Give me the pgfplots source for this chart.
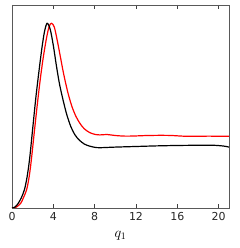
\documentclass[border=0pt]{standalone}
\usepackage{fontspec}
\setmainfont{DejaVu Sans}
\usepackage{pgfplots}
\pgfplotsset{compat=1.18}
\begin{document}
\begin{tikzpicture}
\begin{axis}[
  scale only axis,
  width=217bp, height=203bp,
  xmin=0, xmax=21, ymin=0, ymax=1,
  xtick={0,4,8,12,16,20},
  ytick=\empty,
  tick align=inside,
  xtick pos=both,
  major tick length=4bp,
  tick style={black!75, line width=0.6bp},
  axis line style={black!65, line width=0.8bp},
  /pgf/number format/assume math mode=true,
  ticklabel style={font=\fontsize{11}{13}\selectfont, text=black!85},
  xticklabel style={yshift=-1bp},
  xlabel={$q_1$},
  xlabel style={font=\fontsize{14}{16}\selectfont, yshift=-4bp},
  clip=true,
]
\coordinate (bl) at (rel axis cs:0,0);
\coordinate (tr) at (rel axis cs:1,1);
\addplot[red, line width=1.2bp, smooth, tension=0.5] coordinates {
(0,0) (0.4,0.004) (0.84,0.023) (1.1,0.05) (1.41,0.089) (1.65,0.15) (1.87,0.236)
(2.15,0.37) (2.45,0.51) (2.75,0.64) (3.05,0.75) (3.35,0.84) (3.6,0.895) (3.83,0.91)
(4.1,0.89) (4.4,0.82) (4.7,0.74) (5.0,0.66) (5.4,0.57) (5.8,0.50) (6.2,0.45)
(6.6,0.415) (7.0,0.39) (7.5,0.372) (8.0,0.363) (8.5,0.36) (9.2,0.362) (10,0.357)
(11,0.354) (12,0.355) (13,0.357) (14.5,0.358) (15.5,0.357) (16.5,0.354) (17.5,0.353)
(19,0.354) (21,0.353)
};
\addplot[black, line width=1.2bp, smooth, tension=0.5] coordinates {
(0,0) (0.3,0.005) (0.6,0.023) (0.9,0.05) (1.2,0.09) (1.45,0.15) (1.7,0.24)
(2.0,0.39) (2.3,0.54) (2.6,0.67) (2.9,0.79) (3.15,0.87) (3.4,0.91)
(3.7,0.88) (4.0,0.80) (4.3,0.70) (4.6,0.61) (4.95,0.53) (5.3,0.46) (5.7,0.40)
(6.1,0.36) (6.5,0.335) (7.0,0.315) (7.5,0.305) (8.0,0.299) (8.5,0.297)
(10,0.300) (12,0.303) (14,0.306) (16,0.308) (18,0.309) (19.5,0.309) (20.5,0.305) (21,0.300)
};
\end{axis}
\path ([shift={(-12bp,-40bp)}]bl) rectangle ([shift={(11bp,5bp)}]tr);
\end{tikzpicture}
\end{document}
